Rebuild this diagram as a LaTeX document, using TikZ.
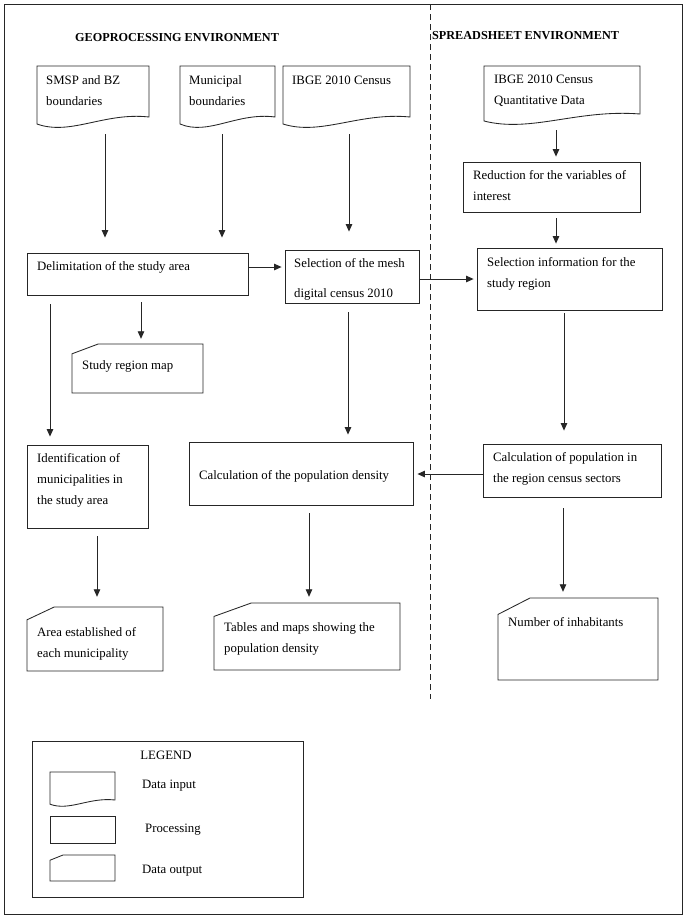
\documentclass[tikz,border=0pt]{standalone}
\usepackage{fontspec}
\setmainfont{Liberation Serif}
\usetikzlibrary{arrows.meta,fit}
% document (data input) outline: x1 y1 x2 y2 amplitude
\newcommand\docpath[5]{(#1,#2) -- (#3,#2) -- (#3,{#4-#5}) .. controls ({#1+0.6*(#3-#1)},{#4-1.5*#5}) and ({#1+0.3*(#3-#1)},{#4+0.9*#5}) .. (#1,{#4-0.3*#5}) -- cycle}
% data output outline: x1 y1 x2 y2
\newcommand\outpath[4]{(#1,{#2+0.2*(#4-#2)}) -- ({#1+0.2*(#3-#1)},#2) -- (#3,#2) -- (#3,#4) -- (#1,#4) -- cycle}
\begin{document}
\begin{tikzpicture}[x=1pt,y=-1pt,
  line/.style={draw=black!85, line width=0.85pt},
  arr/.style={line, -{Triangle[length=7.5pt,width=6.5pt]}},
  region/.style={inner sep=0pt, fit={#1}},
  txt/.style={anchor=north west, inner sep=0pt, align=left, font=\fontsize{12.8}{21}\selectfont},
  hdr/.style={anchor=west, inner sep=0pt, font=\fontsize{12.2}{14}\selectfont\bfseries}
]
\useasboundingbox (0,0) rectangle (685,919);
\fill[white] (0,0) rectangle (685,919);

% outer frame and separator
\node[region={(4,4)(682,914)}, line] (frame) {};
\coordinate (dtop) at (430,4);
\coordinate (dbot) at (430,699);
\draw[line, dash pattern=on 6pt off 4pt] (dtop) -- (dbot);

% headers
\node[hdr] (hgeo) at (75,38) {GEOPROCESSING ENVIRONMENT};
\node[hdr] (hspr) at (432,36) {SPREADSHEET ENVIRONMENT};

% data inputs
\node[region={(37,66)(149,127)}] (smsp) {};
\draw[line] \docpath{37}{66}{149}{127}{10};
\node[txt] (tsmsp) at (46,75.5) {SMSP and BZ\\boundaries};

\node[region={(180,66)(275,127)}] (munic) {};
\draw[line] \docpath{180}{66}{275}{127}{10};
\node[txt] (tmunic) at (189,75.5) {Municipal\\boundaries};

\node[region={(283,66)(410,127)}] (ibge) {};
\draw[line] \docpath{283}{66}{410}{127}{10};
\node[txt] (tibge) at (292,75.5) {IBGE 2010 Census};

\node[region={(484,66)(640,124)}] (quant) {};
\draw[line] \docpath{484}{66}{640}{124}{10};
\node[txt] (tquant) at (494,74.5) {IBGE 2010 Census\\Quantitative Data};

% processing boxes
\node[region={(463,162)(640,212)}, line] (reduce) {};
\node[txt] (treduce) at (473,170.5) {Reduction for the variables of\\interest};

\node[region={(477,248)(662,310)}, line] (selinfo) {};
\node[txt] (tselinfo) at (487,257.5) {Selection information for the\\study region};

\node[region={(27,253)(248,295)}, line] (delim) {};
\node[txt] (tdelim) at (37,261.5) {Delimitation of the study area};

\node[region={(285,250)(419,303)}, line] (mesh) {};
\node[txt, font=\fontsize{12.8}{30}\selectfont] (tmesh) at (294,258.5) {Selection of the mesh\\digital census 2010};

\node[region={(27,445)(148,528)}, line] (ident) {};
\node[txt] (tident) at (37,453.5) {Identification of\\municipalities in\\the study area};

\node[region={(189,442)(413,505)}, line] (density) {};
\node[txt] (tdensity) at (199,470.5) {Calculation of the population density};

\node[region={(483,444)(661,497)}, line] (calcpop) {};
\node[txt] (tcalcpop) at (493,452.5) {Calculation of population in\\the region census sectors};

% data outputs
\node[region={(72,344)(203,393)}] (studymap) {};
\draw[line] \outpath{72}{344}{203}{393};
\node[txt] (tstudymap) at (82,360.5) {Study region map};

\node[region={(27,607)(163,671)}] (area) {};
\draw[line] \outpath{27}{607}{163}{671};
\node[txt] (tarea) at (37,627.5) {Area established of\\each municipality};

\node[region={(214,603)(400,670)}] (tables) {};
\draw[line] \outpath{214}{603}{400}{670};
\node[txt] (ttables) at (224,622.5) {Tables and maps showing the\\population density};

\node[region={(498,598)(658,680)}] (inhab) {};
\draw[line] \outpath{498}{598}{658}{680};
\node[txt] (tinhab) at (508,617.5) {Number of inhabitants};

% arrow positions
\coordinate (x1) at (105,0);
\coordinate (x2) at (222,0);
\coordinate (x3) at (349,0);
\coordinate (x4) at (556,0);
\coordinate (x5) at (141,0);
\coordinate (x6) at (50,0);
\coordinate (x7) at (348,0);
\coordinate (x8) at (564,0);
\coordinate (x9) at (97,0);
\coordinate (x10) at (309,0);
\coordinate (x11) at (563,0);
\coordinate (y1) at (0,267);
\coordinate (y2) at (0,279);
\coordinate (y3) at (0,474);

% connectors
\draw[arr, shorten <=7pt, shorten >=15pt] (smsp.south -| x1) -- (delim.north -| x1);
\draw[arr, shorten <=7pt, shorten >=15pt] (munic.south -| x2) -- (delim.north -| x2);
\draw[arr, shorten <=7pt, shorten >=18pt] (ibge.south -| x3) -- (mesh.north -| x3);
\draw[arr, shorten <=6pt, shorten >=5pt] (quant.south -| x4) -- (reduce.north -| x4);
\draw[arr, shorten <=6pt, shorten >=4pt] (reduce.south -| x4) -- (selinfo.north -| x4);
\draw[arr, shorten <=1pt, shorten >=3pt] (delim.east |- y1) -- (mesh.west |- y1);
\draw[arr, shorten >=3pt] (mesh.east |- y2) -- (selinfo.west |- y2);
\draw[arr, shorten <=7pt, shorten >=5pt] (delim.south -| x5) -- (studymap.north -| x5);
\draw[arr, shorten <=9pt, shorten >=8pt] (delim.south -| x6) -- (ident.north -| x6);
\draw[arr, shorten <=9pt, shorten >=7pt] (mesh.south -| x7) -- (density.north -| x7);
\draw[arr, shorten <=3pt, shorten >=13pt] (selinfo.south -| x8) -- (calcpop.north -| x8);
\draw[arr, shorten >=4pt] (calcpop.west |- y3) -- (density.east |- y3);
\draw[arr, shorten <=8pt, shorten >=10pt] (ident.south -| x9) -- (area.north -| x9);
\draw[arr, shorten <=8pt, shorten >=6pt] (density.south -| x10) -- (tables.north -| x10);
\draw[arr, shorten <=11pt, shorten >=6pt] (calcpop.south -| x11) -- (inhab.north -| x11);

% legend
\node[region={(32,741)(303,897)}, line] (legend) {};
\node[txt, anchor=north] (tlegend) at (166,750.5) {LEGEND};
\node[region={(50,772)(115,806)}] (lgin) {};
\draw[line] \docpath{50}{772}{115}{806}{6};
\node[txt] (tlgin) at (142,779.5) {Data input};
\node[region={(50,816)(115,843)}, line] (lgproc) {};
\node[txt] (tlgproc) at (145,823.5) {Processing};
\node[region={(50,855)(115,881)}] (lgout) {};
\draw[line] \outpath{50}{855}{115}{881};
\node[txt] (tlgout) at (142,864.5) {Data output};
\end{tikzpicture}
\end{document}
